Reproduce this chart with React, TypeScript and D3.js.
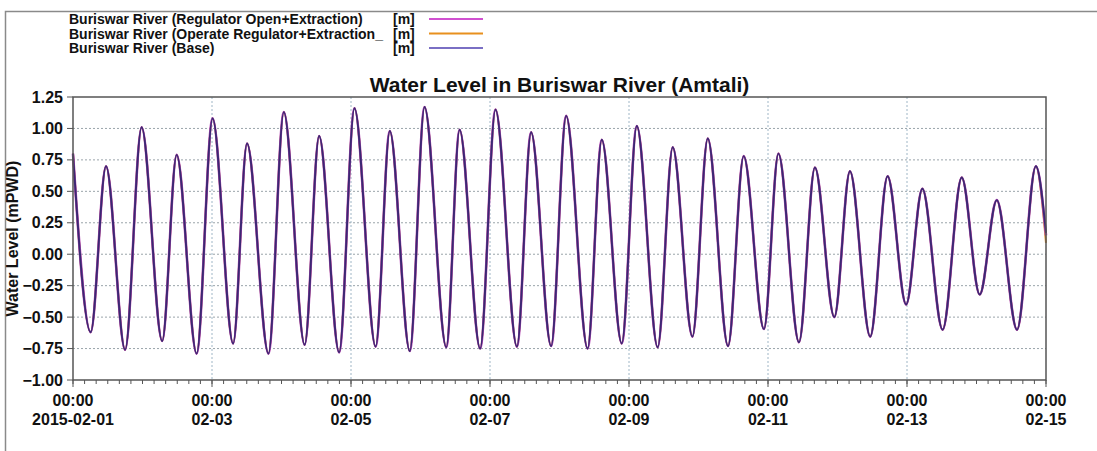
import * as d3 from 'd3'

// hours after 2015-02-01 00:00 of each turning point
const hours = [
  0, 6.1, 11.4, 18.0, 23.7, 30.8, 35.8, 42.7, 48.2, 55.3,
  60.1, 67.5, 72.8, 80.0, 85.0, 91.9, 97.2, 104.5, 109.4, 116.3,
  121.4, 128.9, 133.5, 140.6, 145.9, 153.3, 158.2, 165.1, 170.3, 177.7,
  182.6, 189.5, 194.7, 201.9, 207.1, 213.9, 219.2, 226.2, 231.6, 238.6,
  243.6, 250.7, 256.2, 262.9, 268.3, 275.3, 281.3, 287.7, 293.3, 300.3,
  306.9, 313.1, 319.0, 326.0, 332.5, 336,
]

const baseLevel = [
  0.80, -0.62, 0.70, -0.76, 1.01, -0.69, 0.79, -0.79, 1.08, -0.71,
  0.88, -0.79, 1.13, -0.72, 0.94, -0.78, 1.16, -0.735, 0.98, -0.77,
  1.17, -0.74, 0.99, -0.75, 1.15, -0.735, 0.97, -0.73, 1.10, -0.75,
  0.91, -0.71, 1.02, -0.74, 0.85, -0.655, 0.92, -0.73, 0.78, -0.595,
  0.80, -0.70, 0.69, -0.50, 0.66, -0.655, 0.62, -0.40, 0.52, -0.60,
  0.61, -0.32, 0.43, -0.60, 0.70, 0.17,
]

// the scenarios are indistinguishable from base except at the very end
const regulatorOpenLevel = [
  0.80, -0.62, 0.70, -0.76, 1.01, -0.69, 0.79, -0.79, 1.08, -0.71,
  0.88, -0.79, 1.13, -0.72, 0.94, -0.78, 1.16, -0.735, 0.98, -0.77,
  1.17, -0.74, 0.99, -0.75, 1.15, -0.735, 0.97, -0.73, 1.10, -0.75,
  0.91, -0.71, 1.02, -0.74, 0.85, -0.655, 0.92, -0.73, 0.78, -0.595,
  0.80, -0.70, 0.69, -0.50, 0.66, -0.655, 0.62, -0.40, 0.52, -0.60,
  0.61, -0.32, 0.43, -0.60, 0.70, 0.15,
]

const operateRegulatorLevel = [
  0.80, -0.62, 0.70, -0.76, 1.01, -0.69, 0.79, -0.79, 1.08, -0.71,
  0.88, -0.79, 1.13, -0.72, 0.94, -0.78, 1.16, -0.735, 0.98, -0.77,
  1.17, -0.74, 0.99, -0.75, 1.15, -0.735, 0.97, -0.73, 1.10, -0.75,
  0.91, -0.71, 1.02, -0.74, 0.85, -0.655, 0.92, -0.73, 0.78, -0.595,
  0.80, -0.70, 0.69, -0.50, 0.66, -0.655, 0.62, -0.40, 0.52, -0.60,
  0.61, -0.32, 0.43, -0.60, 0.70, 0.09,
]

const seriesNames = [
  'Buriswar River (Regulator Open+Extraction)',
  'Buriswar River (Operate Regulator+Extraction_',
  'Buriswar River (Base)',
]
const seriesUnits = ['[m]', '[m]', '[m]']

const yTicks = [1.25, 1.0, 0.75, 0.5, 0.25, 0, -0.25, -0.5, -0.75, -1.0]
const xTickDays = ['2015-02-01', '2015-02-03', '2015-02-05', '2015-02-07', '2015-02-09', '2015-02-11', '2015-02-13', '2015-02-15']

const legendColors = ['#d050d0', '#e8901e', '#7a6fc4']
const lineColors = ['#b44ab8', '#e08a20', '#3b2872']

const W = 1097
const H = 451
const left = 73
const right = 1046
const top = 97
const bottom = 380
const font = '"Liberation Sans", Arial, sans-serif'

export default function App() {
  const start = new Date(Date.UTC(2015, 1, 1))
  const end = new Date(Date.UTC(2015, 1, 15))
  const x = d3.scaleUtc().domain([start, end]).range([left, right])
  const y = d3.scaleLinear().domain([-1, 1.25]).range([bottom, top])

  const times = hours.map(h => new Date(start.getTime() + h * 3600 * 1000))
  const line = d3.line<number>()
    .x((_, i) => x(times[i]))
    .y(d => y(d))
    .curve(d3.curveMonotoneX)

  const series = [regulatorOpenLevel, operateRegulatorLevel, baseLevel]
  const widths = [2.6, 2.0, 1.9]
  const drawOrder = [1, 0, 2]
  const minorTicks = d3.utcHour.every(4)!.range(start, d3.utcHour.offset(end, 1))
  const majorDates = xTickDays.map(s => new Date(s + 'T00:00:00Z'))

  return (
    <svg width={W} height={H} style={{ position: 'absolute', left: 0, top: 0, background: '#fff' }} fontFamily={font}>
      <rect x={5.5} y={11.5} width={W + 10} height={H + 10} fill="#fff" stroke="#8a8a8a" strokeWidth={1.5} />

      {/* legend */}
      {seriesNames.map((name, i) => (
        <g key={name} fontWeight="bold" fontSize={14} fill="#111">
          <text x={69} y={24 + i * 14.5}>{name}</text>
          <text x={393} y={24 + i * 14.5}>{seriesUnits[i]}</text>
          <line x1={429} x2={483} y1={19 + i * 14.5} y2={19 + i * 14.5} stroke={legendColors[i]} strokeWidth={2} />
        </g>
      ))}

      <text x={(left + right) / 2} y={92} textAnchor="middle" fontWeight="bold" fontSize={21} fill="#111">
        Water Level in Buriswar River (Amtali)
      </text>

      {/* grid */}
      {yTicks.slice(1, -1).map(t => (
        <line key={'gy' + t} x1={left} x2={right} y1={y(t)} y2={y(t)} stroke="#9aa4aa" strokeWidth={1} strokeDasharray="2,2" />
      ))}
      {majorDates.slice(1, -1).map(d => (
        <line key={'gx' + d.getTime()} x1={x(d)} x2={x(d)} y1={top} y2={bottom} stroke="#9fb6c6" strokeWidth={1} strokeDasharray="2,2" />
      ))}

      {/* series */}
      {drawOrder.map(i => (
        <path key={i} d={line(series[i]) ?? ''} fill="none" stroke={lineColors[i]} strokeWidth={widths[i]} strokeLinejoin="round" />
      ))}

      {/* frame */}
      <rect x={left} y={top} width={right - left} height={bottom - top} fill="none" stroke="#555" strokeWidth={1.5} />

      {/* y axis */}
      {yTicks.map(t => (
        <g key={'yt' + t}>
          <line x1={left - 6} x2={left} y1={y(t)} y2={y(t)} stroke="#555" strokeWidth={1} />
          <text x={63} y={y(t) + 5.5} textAnchor="end" fontWeight="bold" fontSize={16} fill="#111">
            {d3.format('.2f')(t)}
          </text>
        </g>
      ))}
      <text
        transform={`translate(18,${(top + bottom) / 2}) rotate(-90)`}
        textAnchor="middle"
        fontWeight="bold"
        fontSize={16}
        fill="#111"
      >
        Water Level (mPWD)
      </text>

      {/* x axis */}
      {minorTicks.map(d => (
        <line key={'mt' + d.getTime()} x1={x(d)} x2={x(d)} y1={bottom} y2={bottom + 4} stroke="#555" strokeWidth={1} />
      ))}
      {majorDates.map((d, i) => (
        <g key={'xt' + i} fontWeight="bold" fontSize={16} fill="#111" textAnchor="middle">
          <line x1={x(d)} x2={x(d)} y1={bottom} y2={bottom + 7} stroke="#555" strokeWidth={1} />
          <text x={x(d)} y={406}>{d3.utcFormat('%H:%M')(d)}</text>
          <text x={x(d)} y={425}>{i === 0 ? d3.utcFormat('%Y-%m-%d')(d) : d3.utcFormat('%m-%d')(d)}</text>
        </g>
      ))}
    </svg>
  )
}
